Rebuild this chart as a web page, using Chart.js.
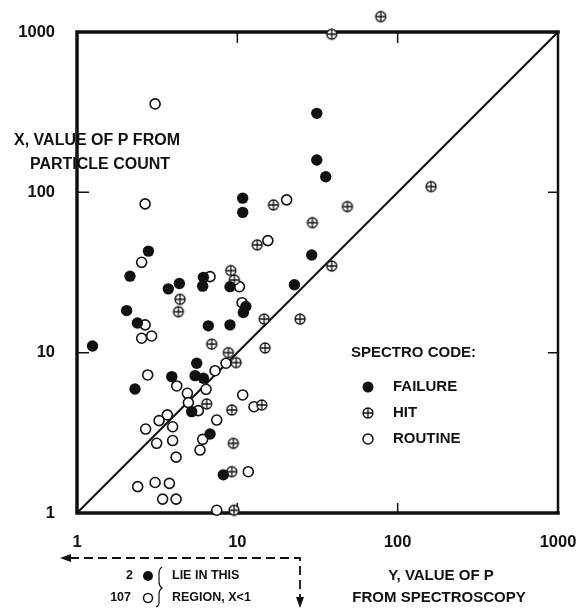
<!DOCTYPE html>
<html>
<head>
<meta charset="utf-8">
<script src="https://cdn.jsdelivr.net/npm/chart.js@4.4.0/dist/chart.umd.min.js"></script>
<style>
  html, body { margin: 0; padding: 0; background: #fff; }
</style>
</head>
<body>
<canvas id="plot" width="577" height="611"></canvas>
<script>
// axis ticks
const xTickValues = [1, 10, 100, 1000];
const yTickValues = [1, 10, 100, 1000];
const tickLabels = ['1', '10', '100', '1000'];

// FAILURE (filled dots) : Y from spectroscopy, X from particle count
const failureX = [1.25, 2.14, 2.79, 2.04, 2.38, 3.71, 4.35, 6.14, 6.08, 6.59, 9.0, 9.0, 10.8, 10.8, 35.6,
                  31.3, 31.3, 29.1, 22.7, 11.3, 10.9, 2.30, 3.90, 5.58, 5.45, 6.14, 5.19, 6.76, 8.18];
const failureY = [11.0, 30, 43, 18.3, 15.3, 25, 27, 29.5, 26, 14.7, 14.9, 25.8, 92, 75, 125,
                  311, 159, 40.7, 26.5, 19.4, 17.8, 5.94, 7.09, 8.59, 7.19, 6.92, 4.29, 3.11, 1.73];

// HIT (crossed circles)
const hitX = [38.8, 78.4, 161.6, 16.8, 48.6, 29.4, 38.8, 14.7, 24.6, 14.9, 13.3, 9.1,
              9.58, 4.39, 4.29, 6.92, 8.79, 9.82, 6.44, 9.23, 9.44, 9.23, 9.54, 14.2];
const hitY = [969, 1248, 108.6, 83.5, 81.5, 64.7, 34.7, 16.2, 16.2, 10.7, 47.0, 32.5,
              28.4, 21.5, 18.0, 11.3, 10.0, 8.67, 4.79, 4.39, 2.72, 1.81, 1.04, 4.72];

// ROUTINE (open circles)
const routineX = [3.07, 2.66, 2.53, 6.76, 2.66, 2.53, 2.92, 20.3, 15.5, 10.3, 10.7, 2.76, 4.19,
                  4.88, 4.95, 5.71, 6.38, 7.26, 8.50, 3.66, 3.25, 2.68, 3.95, 3.14, 3.95, 4.15,
                  7.44, 6.08, 5.85, 2.39, 3.07, 3.77, 3.42, 4.15, 7.44, 10.8, 12.7, 11.7];
const routineY = [356, 84.7, 36.6, 29.8, 14.9, 12.3, 12.7, 89.7, 50.0, 25.8, 20.5, 7.26, 6.20,
                  5.58, 4.88, 4.35, 5.91, 7.72, 8.59, 4.09, 3.77, 3.34, 3.45, 2.72, 2.83, 2.23,
                  3.80, 2.88, 2.47, 1.46, 1.55, 1.53, 1.22, 1.22, 1.04, 5.45, 4.60, 1.81];

// X = Y line
const diagX = [1, 1000];
const diagY = [1, 1000];

const legendLabels = ['FAILURE', 'HIT', 'ROUTINE'];

const FONT = "'Liberation Sans', Arial, Helvetica, sans-serif";
const INK = '#111';

function pts(xs, ys) {
    return xs.map((x, i) => ({x: x, y: ys[i]}));
}

// circle with a plus inside, used as point style for HIT
function hitMarker(r) {
    const size = Math.ceil(r * 2 + 4);
    const c = document.createElement('canvas');
    c.width = size; c.height = size;
    const g = c.getContext('2d');
    const m = size / 2;
    g.fillStyle = '#fff';
    g.strokeStyle = INK;
    g.lineWidth = 1.3;
    g.beginPath(); g.arc(m, m, r, 0, Math.PI * 2); g.fill(); g.stroke();
    g.beginPath();
    g.moveTo(m - r, m); g.lineTo(m + r, m);
    g.moveTo(m, m - r); g.lineTo(m, m + r);
    g.stroke();
    return c;
}
const hitImg = hitMarker(5);

function txt(ctx, s, x, y, size, align) {
    ctx.font = 'bold ' + size + 'px ' + FONT;
    ctx.textAlign = align || 'left';
    ctx.textBaseline = 'middle';
    ctx.fillStyle = INK;
    ctx.fillText(s, x, y);
}

function dot(ctx, x, y, r, filled) {
    ctx.beginPath();
    ctx.arc(x, y, r, 0, Math.PI * 2);
    if (filled) { ctx.fillStyle = INK; ctx.fill(); }
    else { ctx.fillStyle = '#fff'; ctx.fill(); ctx.lineWidth = 1.5; ctx.strokeStyle = INK; ctx.stroke(); }
}

const framePlugin = {
    id: 'frame',
    beforeDatasetsDraw(chart) {
        const {ctx, chartArea: a, scales} = chart;
        ctx.save();
        ctx.strokeStyle = INK;
        ctx.lineCap = 'square';
        ctx.lineWidth = 3.5;
        ctx.beginPath();
        ctx.moveTo(a.right, a.top); ctx.lineTo(a.left, a.top);
        ctx.lineTo(a.left, a.bottom); ctx.lineTo(a.right, a.bottom);
        ctx.stroke();
        ctx.lineWidth = 2.5;
        ctx.beginPath(); ctx.moveTo(a.right, a.top); ctx.lineTo(a.right, a.bottom); ctx.stroke();

        // inward ticks
        ctx.lineWidth = 1.5;
        ctx.lineCap = 'butt';
        ctx.beginPath();
        xTickValues.slice(1, -1).forEach(v => {
            const px = scales.x.getPixelForValue(v);
            ctx.moveTo(px, a.top); ctx.lineTo(px, a.top + 11);
            ctx.moveTo(px, a.bottom); ctx.lineTo(px, a.bottom - 10);
        });
        yTickValues.slice(1, -1).forEach(v => {
            const py = scales.y.getPixelForValue(v);
            ctx.moveTo(a.left, py); ctx.lineTo(a.left + 12, py);
            ctx.moveTo(a.right, py); ctx.lineTo(a.right - 10, py);
        });
        ctx.stroke();
        ctx.restore();
    },
    afterDatasetsDraw(chart) {
        // Chart.js skips points outside the chart area; draw those (HIT above 1000) here
        const {ctx, chartArea: a} = chart;
        chart.getDatasetMeta(1).data.forEach(el => {
            if (el.y < a.top - 4) {
                ctx.drawImage(hitImg, el.x - hitImg.width / 2, el.y - hitImg.height / 2);
            }
        });
    },
    afterDraw(chart) {
        const ctx = chart.ctx;
        ctx.save();

        // axis titles
        txt(ctx, 'X, VALUE OF P FROM', 97, 141, 16, 'center');
        txt(ctx, 'PARTICLE COUNT', 100, 165, 16, 'center');
        txt(ctx, 'Y, VALUE OF P', 441, 576, 15, 'center');
        txt(ctx, 'FROM SPECTROSCOPY', 439, 598, 15, 'center');

        // legend
        txt(ctx, 'SPECTRO CODE:', 351, 353, 15);
        const rows = [387, 413, 439];
        dot(ctx, 368, rows[0], 5.5, true);
        ctx.drawImage(hitImg, 368 - hitImg.width / 2, rows[1] - hitImg.height / 2);
        dot(ctx, 368, rows[2], 5, false);
        legendLabels.forEach((l, i) => txt(ctx, l, 393, rows[i], 15));

        // note below the axis
        ctx.strokeStyle = INK;
        ctx.lineWidth = 1.8;
        ctx.setLineDash([9, 5]);
        ctx.beginPath();
        ctx.moveTo(70, 558); ctx.lineTo(300, 558); ctx.lineTo(300, 599);
        ctx.stroke();
        ctx.setLineDash([]);
        ctx.fillStyle = INK;
        ctx.beginPath();
        ctx.moveTo(60, 558); ctx.lineTo(71, 554); ctx.lineTo(71, 562); ctx.closePath(); ctx.fill();
        ctx.beginPath();
        ctx.moveTo(300, 608); ctx.lineTo(296, 597); ctx.lineTo(304, 597); ctx.closePath(); ctx.fill();

        txt(ctx, '2', 133, 576, 12.5, 'right');
        txt(ctx, '107', 131, 598, 12.5, 'right');
        dot(ctx, 148, 576, 5, true);
        dot(ctx, 148, 598, 4.5, false);
        // brace
        ctx.lineWidth = 1.2;
        ctx.beginPath();
        ctx.moveTo(162, 567);
        ctx.quadraticCurveTo(159, 569, 159, 574);
        ctx.lineTo(159, 582);
        ctx.quadraticCurveTo(159, 586, 162, 588);
        ctx.quadraticCurveTo(159, 590, 159, 594);
        ctx.lineTo(159, 602);
        ctx.quadraticCurveTo(159, 606, 156, 607);
        ctx.stroke();
        txt(ctx, 'LIE IN THIS', 172, 576, 12.5);
        txt(ctx, 'REGION, X<1', 172, 598, 12.5);

        ctx.restore();
    }
};

const tickFont = {family: FONT, size: 16.5, weight: 'bold'};

new Chart(document.getElementById('plot'), {
    type: 'scatter',
    data: {
        datasets: [
            {
                label: 'FAILURE',
                data: pts(failureX, failureY),
                pointStyle: 'circle',
                pointRadius: 5.7,
                borderWidth: 0,
                backgroundColor: INK,
                clip: false,
                order: 1
            },
            {
                label: 'HIT',
                data: pts(hitX, hitY),
                pointStyle: hitImg,
                clip: false,
                order: 2
            },
            {
                label: 'ROUTINE',
                data: pts(routineX, routineY),
                pointStyle: 'circle',
                pointRadius: 5,
                borderWidth: 1.6,
                borderColor: INK,
                backgroundColor: '#fff',
                clip: false,
                order: 3
            },
            {
                type: 'line',
                label: 'X = Y',
                data: pts(diagX, diagY),
                borderColor: INK,
                borderWidth: 2,
                pointRadius: 0,
                order: 10
            }
        ]
    },
    options: {
        responsive: false,
        animation: false,
        events: [],
        layout: {padding: {left: 0, right: 19, top: 32, bottom: 0}},
        plugins: {
            legend: {display: false},
            tooltip: {enabled: false}
        },
        scales: {
            x: {
                type: 'logarithmic',
                min: 1,
                max: 1000,
                grid: {display: false},
                border: {display: false},
                afterBuildTicks: (s) => { s.ticks = xTickValues.map(v => ({value: v})); },
                afterFit: (s) => { s.height = 98; s.paddingLeft = 0; s.paddingRight = 0; },
                ticks: {
                    color: INK,
                    font: tickFont,
                    padding: 12,
                    maxRotation: 0,
                    autoSkip: false,
                    callback: (v) => tickLabels[xTickValues.indexOf(v)]
                }
            },
            y: {
                type: 'logarithmic',
                min: 1,
                max: 1000,
                grid: {display: false},
                border: {display: false},
                afterBuildTicks: (s) => { s.ticks = yTickValues.map(v => ({value: v})); },
                afterFit: (s) => { s.width = 77; s.paddingTop = 0; s.paddingBottom = 0; },
                ticks: {
                    color: INK,
                    font: tickFont,
                    padding: 14,
                    autoSkip: false,
                    callback: (v) => tickLabels[yTickValues.indexOf(v)]
                }
            }
        }
    },
    plugins: [framePlugin]
});
</script>
</body>
</html>
